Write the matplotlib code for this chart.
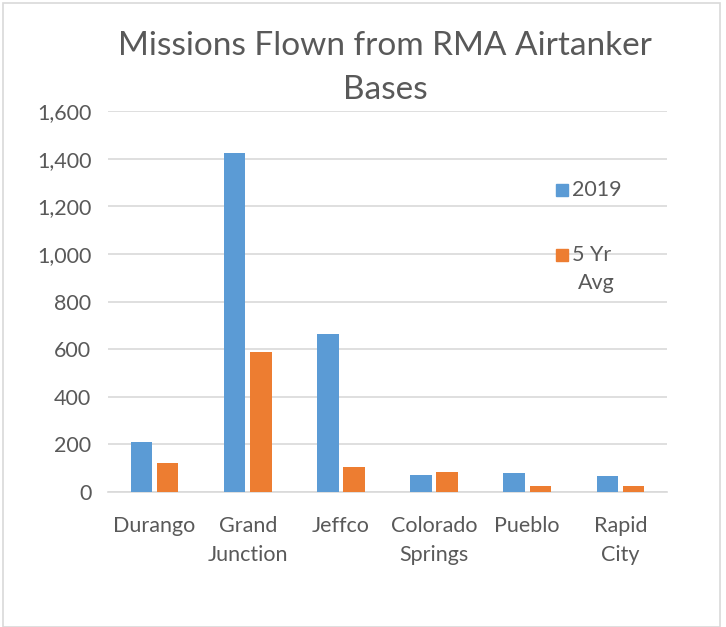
import numpy as np
import matplotlib
matplotlib.use('Agg')
from matplotlib import pyplot as plt
from matplotlib.patches import Rectangle
from matplotlib.ticker import FuncFormatter

bases = ['Durango', 'Grand\nJunction', 'Jeffco', 'Colorado\nSprings', 'Pueblo', 'Rapid\nCity']
missions_2019 = [211, 1422, 664, 72, 81, 66]
missions_5yr = [120, 589, 107, 83, 24, 27]
series_names = ['2019', '5 Yr Avg']

blue = '#5B9BD5'
orange = '#ED7D31'
text_gray = '#595959'

plt.rcParams['font.family'] = ['Lato', 'DejaVu Sans']

fig = plt.figure(figsize=(7.26, 6.27), dpi=100)
W, H = 726, 627
ax = fig.add_axes([108 / W, 1 - 492 / H, (667 - 108) / W, (492 - 111) / H])

x = np.arange(len(bases))
w = 0.23
ax.bar(x - 0.14, missions_2019, w, color=blue, zorder=3)
ax.bar(x + 0.14, missions_5yr, w, color=orange, zorder=3)

ax.set_xlim(-0.5, len(bases) - 0.5)
ax.set_ylim(0, 1600)
ax.set_yticks(range(0, 1601, 200))
ax.yaxis.set_major_formatter(FuncFormatter(lambda v, p: '{:,.0f}'.format(v)))
ax.grid(axis='y', color='#D9D9D9', lw=1.2, zorder=0)
for s in ['top', 'right', 'left']:
    ax.spines[s].set_visible(False)
ax.spines['bottom'].set_color('#D9D9D9')
ax.spines['bottom'].set_linewidth(1.2)
ax.tick_params(axis='both', length=0, labelsize=15.5, colors=text_gray)
ax.tick_params(axis='x', pad=17)
ax.tick_params(axis='y', pad=12)
ax.set_xticks(x)
ax.set_xticklabels(bases, linespacing=1.6, va='top')

# title
fig.text(385 / W, 1 - 68 / H, 'Missions Flown from RMA Airtanker\nBases', ha='center', va='center',
         fontsize=24, color=text_gray, linespacing=1.6)

# legend drawn manually (Excel style, no box)
fig.patches.append(Rectangle((556 / W, 1 - 196 / H), 12 / W, 12 / H,
                             transform=fig.transFigure, color=blue, zorder=5))
fig.patches.append(Rectangle((556 / W, 1 - 261 / H), 12 / W, 12 / H,
                             transform=fig.transFigure, color=orange, zorder=5))
fig.text(572 / W, 1 - 190 / H, series_names[0], ha='left', va='center', fontsize=15.5, color=text_gray)
fig.text(572 / W, 1 - 255 / H, '5 Yr', ha='left', va='center', fontsize=15.5, color=text_gray)
fig.text(596 / W, 1 - 283 / H, 'Avg', ha='center', va='center', fontsize=15.5, color=text_gray)

# chart border
fig.patches.append(Rectangle((3 / W, 0), 717 / W, 1 - 3 / H, transform=fig.transFigure,
                             fill=False, ec='#D9D9D9', lw=1.2))

fig.savefig('out.png', dpi=100)
